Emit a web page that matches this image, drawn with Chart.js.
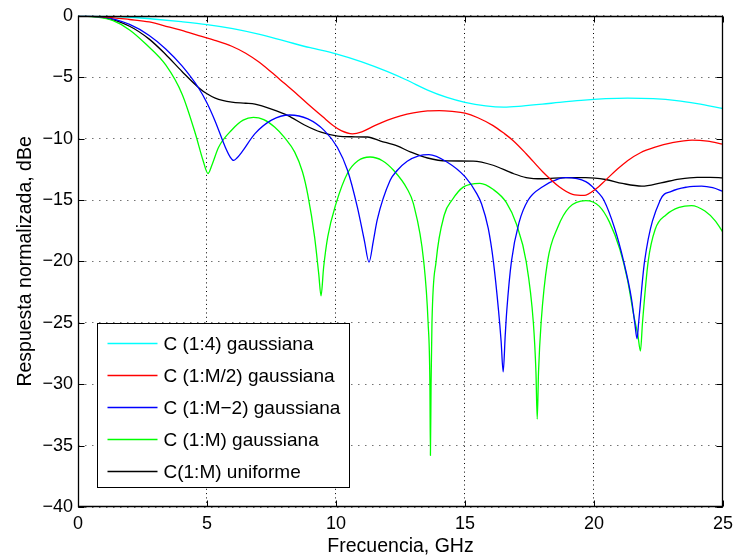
<!DOCTYPE html>
<html>
<head>
<meta charset="utf-8">
<script src="https://cdn.jsdelivr.net/npm/chart.js@4/dist/chart.umd.min.js"></script>
<style>
  html, body { margin: 0; padding: 0; background: #ffffff; }
  #wrap { width: 739px; height: 560px; }
</style>
</head>
<body>
<div id="wrap"><canvas id="c" width="739" height="560"></canvas></div>
<script>
// ---- Data ----
const seriesLabels = [
  'C (1:4) gaussiana',
  'C (1:M/2) gaussiana',
  'C (1:M\u22122) gaussiana',
  'C (1:M) gaussiana',
  'C(1:M) uniforme'
];
const seriesColors = ['#00ffff', '#ff0000', '#0000ff', '#00ff00', '#000000'];

const xTicks = [0, 5, 10, 15, 20, 25];
const xTickLabels = ['0', '5', '10', '15', '20', '25'];
const yTicks = [-40, -35, -30, -25, -20, -15, -10, -5, 0];
const yTickLabels = ['\u221240', '\u221235', '\u221230', '\u221225', '\u221220', '\u221215', '\u221210', '\u22125', '0'];

// C (1:4) gaussiana
const freqC14 = [0, 1, 2, 3, 4, 5, 6, 7, 8, 9, 10, 11, 12, 12.76, 13.55, 14.3, 15, 15.8, 16.5, 17.2, 18, 18.65, 19.5, 20.45, 21.3, 22.3, 23.2, 24, 25];
const respC14 = [0, -0.03, -0.12, -0.28, -0.48, -0.72, -1.05, -1.5, -2.05, -2.6, -3.1, -3.75, -4.55, -5.25, -6.05, -6.65, -7.05, -7.33, -7.43, -7.35, -7.2, -7.05, -6.88, -6.75, -6.7, -6.75, -6.9, -7.15, -7.55];

// C (1:M/2) gaussiana
const freqCM2 = [0, 1, 2, 2.76, 3.5, 4.2, 4.68, 5.3, 5.96, 6.5, 7.0, 7.5, 8.0, 8.5, 9.0, 9.5, 9.9, 10.2, 10.64, 11.0, 11.5, 12.0, 12.5, 13.0, 13.55, 14.0, 14.5, 15.0, 15.5, 16.09, 16.5, 16.86, 17.37, 18.01, 18.65, 19.17, 19.62, 20.07, 20.45, 20.9, 21.3, 21.8, 22.37, 23.0, 23.8, 24.4, 25];
const respCM2 = [0, -0.08, -0.3, -0.5, -0.9, -1.3, -1.62, -2.0, -2.48, -3.05, -3.75, -4.6, -5.5, -6.4, -7.35, -8.25, -8.95, -9.35, -9.61, -9.45, -8.95, -8.5, -8.15, -7.9, -7.74, -7.72, -7.78, -7.92, -8.3, -8.94, -9.55, -10.15, -11.23, -12.7, -13.92, -14.54, -14.62, -14.1, -13.38, -12.5, -11.8, -11.15, -10.7, -10.35, -10.12, -10.2, -10.45];

// C (1:M-2) gaussiana
const freqCMm2 = [0, 1, 2, 2.76, 3.4, 4.04, 4.68, 5.0, 5.32, 5.71, 5.9, 6.03, 6.15, 6.35, 6.86, 7.5, 8.2, 8.91, 9.55, 10.05, 10.45, 10.83, 11.1, 11.28, 11.45, 11.6, 12.1, 12.37, 12.76, 13.2, 13.6, 14.3, 15.0, 15.45, 15.64, 15.9, 16.1, 16.3, 16.4, 16.48, 16.56, 16.62, 16.8, 17.1, 17.45, 18.01, 18.65, 18.91, 19.68, 20.19, 20.38, 20.8, 21.15, 21.45, 21.58, 21.67, 21.73, 21.96, 22.57, 23.0, 23.6, 24.17, 24.6, 25];
const respCMm2 = [0, -0.1, -0.7, -1.6, -2.7, -4.1, -5.9, -7.1, -8.6, -10.7, -11.5, -11.77, -11.6, -11.1, -9.6, -8.5, -8.08, -8.4, -9.35, -10.7, -12.6, -15.6, -18.3, -20.06, -18.3, -16.6, -13.4, -12.6, -11.85, -11.4, -11.3, -11.9, -13.1, -14.46, -15.3, -17.3, -20.0, -24.0, -26.5, -29.0, -26.0, -24.0, -20.0, -16.8, -15.0, -13.92, -13.25, -13.17, -13.5, -14.46, -15.0, -17.3, -20.0, -23.0, -25.0, -26.3, -25.0, -20.0, -15.0, -14.3, -13.95, -13.87, -14.0, -14.3];

// C (1:M) gaussiana
const freqCM = [0, 0.7, 1.36, 2.0, 2.63, 3.4, 4.04, 4.55, 4.85, 5.04, 5.2, 5.45, 5.96, 6.4, 6.8, 7.2, 7.63, 8.0, 8.4, 8.7, 8.91, 9.17, 9.33, 9.42, 9.52, 9.68, 10.0, 10.45, 10.85, 11.32, 11.8, 12.24, 12.76, 13.0, 13.4, 13.57, 13.64, 13.66, 13.685, 13.72, 13.88, 14.2, 14.5, 14.93, 15.58, 16.1, 16.6, 17.0, 17.37, 17.65, 17.75, 17.8, 17.85, 17.95, 18.2, 18.6, 19.04, 19.68, 20.2, 20.6, 21.0, 21.3, 21.55, 21.7, 21.8, 21.88, 22.1, 22.37, 22.8, 23.3, 23.78, 24.3, 24.7, 25];
const respCM = [0, -0.1, -0.4, -1.15, -2.3, -4.0, -6.4, -9.6, -11.8, -12.84, -12.1, -10.7, -9.3, -8.5, -8.27, -8.45, -9.07, -9.9, -11.1, -12.7, -14.6, -18.0, -21.0, -22.8, -20.5, -18.0, -15.3, -12.8, -11.8, -11.5, -11.8, -12.6, -14.1, -15.3, -20.0, -25.0, -30.0, -35.8, -30.0, -25.0, -20.0, -16.2, -15.0, -13.95, -13.65, -14.15, -15.2, -17.0, -20.0, -25.0, -29.0, -32.85, -29.0, -25.0, -20.0, -17.2, -15.6, -15.05, -15.5, -16.8, -19.0, -21.5, -24.5, -26.0, -27.3, -25.0, -20.0, -17.4, -16.2, -15.6, -15.45, -15.9, -16.7, -17.63];

// C(1:M) uniforme
const freqUni = [0, 1, 2, 2.76, 3.4, 4.04, 4.68, 5.0, 5.32, 5.96, 6.5, 6.86, 7.5, 8.14, 8.78, 9.42, 10.07, 10.6, 11.22, 11.73, 12.37, 12.9, 13.55, 14.3, 15.32, 16.09, 16.86, 17.37, 18.01, 18.91, 19.68, 20.45, 21.1, 21.86, 22.6, 23.3, 24.0, 24.5, 25];
const respUni = [0, -0.15, -0.85, -1.9, -3.15, -4.55, -5.85, -6.35, -6.7, -7.03, -7.12, -7.2, -7.6, -8.13, -8.89, -9.48, -9.8, -9.85, -9.87, -10.2, -10.6, -11.1, -11.58, -11.82, -11.83, -12.17, -12.84, -13.17, -13.27, -13.17, -13.17, -13.33, -13.65, -13.87, -13.6, -13.3, -13.15, -13.15, -13.2];

const seriesFreq = [freqC14, freqCM2, freqCMm2, freqCM, freqUni];
const seriesResp = [respC14, respCM2, respCMm2, respCM, respUni];

// ---- Build chart ----
const FONT = "'Liberation Sans', Arial, Helvetica, sans-serif";

const datasets = seriesLabels.map((label, k) => ({
  label: label,
  data: seriesFreq[k].map((x, i) => ({ x: x, y: seriesResp[k][i] })),
  borderColor: seriesColors[k],
  backgroundColor: seriesColors[k],
  borderWidth: 1.3,
  pointRadius: 0,
  fill: false,
  cubicInterpolationMode: 'monotone'
}));

const framePlugin = {
  id: 'matlabFrame',
  afterDatasetsDraw(chart) {
    const { ctx, chartArea: a, scales } = chart;
    const xs = scales.x, ys = scales.y;
    const L = Math.round(a.left) + 0.5, R = Math.round(a.right) - 0.5;
    const T = Math.round(a.top) + 0.5, B = Math.round(a.bottom) - 0.5;
    ctx.save();
    ctx.strokeStyle = '#000';
    ctx.lineWidth = 1.3;
    ctx.setLineDash([]);
    ctx.beginPath();
    ctx.rect(L, T, R - L, B - T);
    ctx.stroke();
    const tl = 6;
    ctx.lineWidth = 1;
    ctx.beginPath();
    xTicks.forEach(v => {
      const p = Math.round(xs.getPixelForValue(v)) + 0.5;
      ctx.moveTo(p, B); ctx.lineTo(p, B - tl);
      ctx.moveTo(p, T); ctx.lineTo(p, T + tl);
    });
    yTicks.forEach(v => {
      const p = Math.round(ys.getPixelForValue(v)) + 0.5;
      ctx.moveTo(L, p); ctx.lineTo(L + tl, p);
      ctx.moveTo(R, p); ctx.lineTo(R - tl, p);
    });
    ctx.stroke();
    ctx.restore();
  }
};

const legendPlugin = {
  id: 'matlabLegend',
  afterDraw(chart) {
    const { ctx } = chart;
    const xs = chart.scales.x, ys = chart.scales.y;
    const bx = Math.round(xs.getPixelForValue(0.73)) + 0.5;
    const by = Math.round(ys.getPixelForValue(-25.0)) + 0.5;
    const bw = 252, bh = 164;
    ctx.save();
    ctx.fillStyle = '#ffffff';
    ctx.fillRect(bx, by, bw, bh);
    ctx.strokeStyle = '#000000';
    ctx.lineWidth = 1;
    ctx.strokeRect(bx, by, bw, bh);
    ctx.font = '19px ' + FONT;
    ctx.textBaseline = 'middle';
    ctx.textAlign = 'left';
    for (let i = 0; i < chart.data.datasets.length; i++) {
      const ds = chart.data.datasets[i];
      const cy = Math.round(by + 19 + i * 32) + 0.5;
      ctx.beginPath();
      ctx.strokeStyle = seriesColors[i];
      ctx.lineWidth = 1.3;
      ctx.moveTo(bx + 10, cy);
      ctx.lineTo(bx + 60, cy);
      ctx.stroke();
      ctx.fillStyle = '#000000';
      ctx.fillText(ds.label, bx + 66, cy + 1);
    }
    ctx.restore();
  }
};

new Chart(document.getElementById('c'), {
  type: 'line',
  data: { datasets: datasets },
  options: {
    responsive: false,
    animation: false,
    devicePixelRatio: 1,
    layout: { padding: { left: 0, right: 11, top: 11, bottom: 0 } },
    plugins: {
      legend: { display: false },
      tooltip: { enabled: false }
    },
    scales: {
      x: {
        type: 'linear',
        min: 0, max: 25,
        afterBuildTicks: (s) => { s.ticks = xTicks.map(v => ({ value: v })); },
        afterFit: (s) => { s.height = 53; },
        ticks: {
          color: '#000',
          font: { family: FONT, size: 18 },
          padding: 6,
          maxRotation: 0,
          callback: (v, i) => xTickLabels[i]
        },
        grid: {
          color: '#000',
          lineWidth: 1,
          drawTicks: false
        },
        border: { display: false, dash: [1, 3.3] },
        title: {
          display: true,
          text: 'Frecuencia, GHz',
          color: '#000',
          font: { family: FONT, size: 19.5 },
          padding: { top: 0, bottom: 2 }
        }
      },
      y: {
        type: 'linear',
        min: -40, max: 0,
        afterBuildTicks: (s) => { s.ticks = yTicks.map(v => ({ value: v })); },
        afterFit: (s) => { s.width = 78; },
        ticks: {
          color: '#000',
          font: { family: FONT, size: 18 },
          padding: 5,
          callback: (v, i) => yTickLabels[i]
        },
        grid: {
          color: 'rgba(0,0,0,0.55)',
          lineWidth: 1,
          drawTicks: false
        },
        border: { display: false, dash: [1.5, 5.5] },
        title: {
          display: true,
          text: 'Respuesta normalizada, dBe',
          color: '#000',
          font: { family: FONT, size: 19.5 },
          padding: { top: 14, bottom: 0 }
        }
      }
    }
  },
  plugins: [framePlugin, legendPlugin]
});
</script>
</body>
</html>
